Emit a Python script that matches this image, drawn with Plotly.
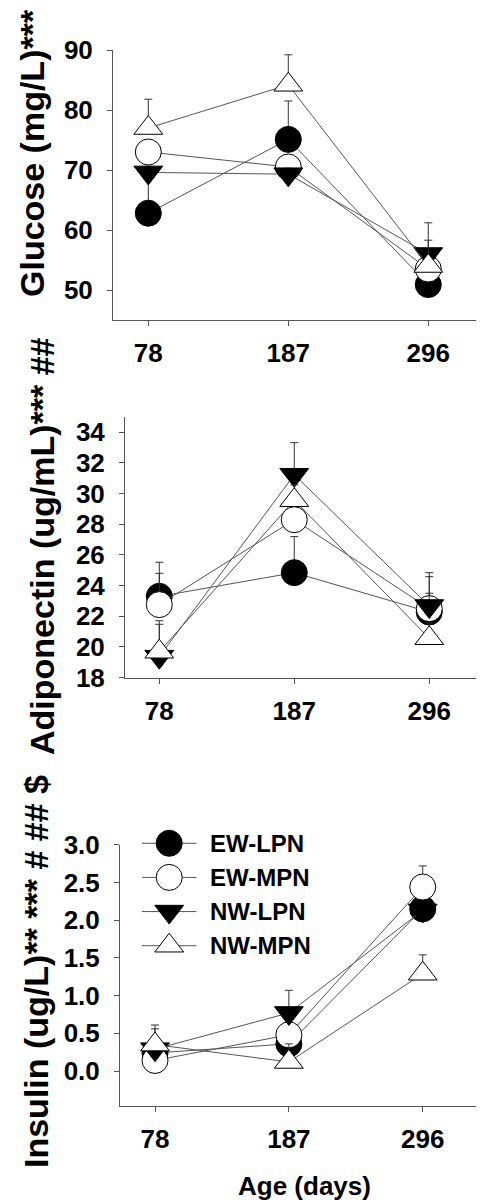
import plotly.graph_objects as go

# ---------------- data ----------------
days = [78, 187, 296]
day_labels = ["78", "187", "296"]
series = ["EW-LPN", "EW-MPN", "NW-LPN", "NW-MPN"]

# Glucose (mg/L): means and upper SE
glucose_ew_lpn = [62.8, 75.1, 50.9]
glucose_ew_mpn = [73.0, 70.5, 53.5]
glucose_nw_lpn = [69.6, 69.3, 56.0]
glucose_nw_mpn = [77.0, 84.2, 54.0]
glucose_ew_lpn_se = [11.8, 6.4, 1.0]
glucose_ew_mpn_se = [1.5, 1.0, 1.0]
glucose_nw_lpn_se = [1.0, 1.0, 2.3]
glucose_nw_mpn_se = [4.8, 5.0, 7.2]

# Adiponectin (ug/mL)
adipo_ew_lpn = [23.3, 24.84, 22.28]
adipo_ew_mpn = [22.76, 28.29, 22.5]
adipo_nw_lpn = [19.37, 31.22, 22.67]
adipo_nw_mpn = [19.69, 29.56, 20.57]
adipo_ew_lpn_se = [2.22, 2.35, 2.3]
adipo_ew_mpn_se = [2.04, 1.0, 1.0]
adipo_nw_lpn_se = [2.34, 2.09, 2.17]
adipo_nw_mpn_se = [1.79, 1.0, 1.0]

# Insulin (ug/L)
insulin_ew_lpn = [0.24, 0.36, 2.15]
insulin_ew_mpn = [0.14, 0.48, 2.44]
insulin_nw_lpn = [0.29, 0.77, 2.13]
insulin_nw_mpn = [0.35, 0.12, 1.29]
insulin_ew_lpn_se = [0.32, 0.05, 0.275]
insulin_ew_mpn_se = [0.05, 0.05, 0.28]
insulin_nw_lpn_se = [0.05, 0.30, 0.05]
insulin_nw_mpn_se = [0.26, 0.24, 0.25]

glucose_ticks = [50, 60, 70, 80, 90]
adipo_ticks = [18, 20, 22, 24, 26, 28, 30, 32, 34]
insulin_ticks = [0.0, 0.5, 1.0, 1.5, 2.0, 2.5, 3.0]

# ---------------- styles ----------------
PAGE_W, PAGE_H = 484, 1202
OFF = 8                       # default body margin of the html page
W, H = PAGE_W - OFF, PAGE_H - OFF
FONT = "Liberation Sans, Arial, sans-serif"
LINE_COLOR = "#555555"
AXIS_COLOR = "#555555"
styles = {
    "EW-LPN": dict(symbol="circle", fill="black", size=26),
    "EW-MPN": dict(symbol="circle", fill="white", size=26),
    "NW-LPN": dict(symbol="triangle-down", fill="black", size=25),
    "NW-MPN": dict(symbol="triangle-up", fill="white", size=25),
}


def fx(p):
    return (p - OFF) / W


def fy(p):
    return 1 - (p - OFF) / H


panels = [
    dict(means=[glucose_ew_lpn, glucose_ew_mpn, glucose_nw_lpn, glucose_nw_mpn],
         errs=[glucose_ew_lpn_se, glucose_ew_mpn_se, glucose_nw_lpn_se, glucose_nw_mpn_se],
         xdom=(113, 484), ydom=(320, 50), xr=[50.5, 339.4], yr=[45, 90],
         ticks=glucose_ticks, fmt="d"),
    dict(means=[adipo_ew_lpn, adipo_ew_mpn, adipo_nw_lpn, adipo_nw_mpn],
         errs=[adipo_ew_lpn_se, adipo_ew_mpn_se, adipo_nw_lpn_se, adipo_nw_mpn_se],
         xdom=(125, 484), ydom=(677.7, 417.3), xr=[50.3, 340.2], yr=[18, 34.96],
         ticks=adipo_ticks, fmt="d"),
    dict(means=[insulin_ew_lpn, insulin_ew_mpn, insulin_nw_lpn, insulin_nw_mpn],
         errs=[insulin_ew_lpn_se, insulin_ew_mpn_se, insulin_nw_lpn_se, insulin_nw_mpn_se],
         xdom=(120, 484), ydom=(1105.7, 844.8), xr=[49.5, 345.9], yr=[-0.46, 3.0],
         ticks=insulin_ticks, fmt=".1f"),
]

fig = go.Figure()
layout = dict(
    template="none",
    width=W, height=H, margin=dict(l=0, r=0, t=0, b=0, autoexpand=False),
    paper_bgcolor="white", plot_bgcolor="white", showlegend=False,
    font=dict(family=FONT, color="black"),
)

for k, p in enumerate(panels):
    idx = "" if k == 0 else str(k + 1)
    xa, ya = "x" + idx, "y" + idx
    for name, m, e in zip(series, p["means"], p["errs"]):
        st = styles[name]
        fig.add_trace(go.Scatter(
            x=days, y=m, xaxis=xa, yaxis=ya, mode="lines+markers", name=name,
            line=dict(color=LINE_COLOR, width=1),
            marker=dict(symbol=st["symbol"], size=st["size"], color=st["fill"],
                        line=dict(color="black", width=1)),
            error_y=dict(type="data", symmetric=False, array=e, arrayminus=[0] * len(e),
                         color="#333333", thickness=1, width=4),
            cliponaxis=False, showlegend=False,
        ))
    tickfont = dict(family=FONT, size=26, color="black", weight="bold")
    layout["xaxis" + idx] = dict(
        domain=[fx(p["xdom"][0]), min(1.0, fx(p["xdom"][1]))], range=p["xr"], anchor=ya,
        tickmode="array", tickvals=days, ticktext=day_labels, automargin=False,
        showline=True, linecolor=AXIS_COLOR, linewidth=1, ticks="outside",
        ticklen=5, tickcolor=AXIS_COLOR, showgrid=False, zeroline=False,
        tickfont=tickfont, ticklabelstandoff=5,
    )
    layout["yaxis" + idx] = dict(
        domain=[fy(p["ydom"][0]), fy(p["ydom"][1])], range=p["yr"], anchor=xa,
        tickmode="array", tickvals=p["ticks"], tickformat=p["fmt"], automargin=False,
        showline=True, linecolor=AXIS_COLOR, linewidth=1, ticks="outside",
        ticklen=5, tickcolor=AXIS_COLOR, showgrid=False, zeroline=False,
        tickfont=tickfont, ticklabelstandoff=9,
    )

# ---------------- custom legend (large symbols) ----------------
layout["xaxis4"] = dict(domain=[fx(141.7), fx(196.7)], range=[0, 1], visible=False,
                        anchor="y4", fixedrange=True, automargin=False)
layout["yaxis4"] = dict(domain=[fy(962.8), fy(826.2)], range=[3.5, -0.5], visible=False,
                        anchor="x4", fixedrange=True, automargin=False)
annotations = []
for i, name in enumerate(series):
    st = styles[name]
    fig.add_trace(go.Scatter(
        x=[0, 1], y=[i, i], xaxis="x4", yaxis="y4", mode="lines",
        line=dict(color=LINE_COLOR, width=1), showlegend=False, hoverinfo="skip",
    ))
    fig.add_trace(go.Scatter(
        x=[0.5], y=[i], xaxis="x4", yaxis="y4", mode="markers",
        marker=dict(symbol=st["symbol"], size=st["size"], color=st["fill"],
                    line=dict(color="black", width=1)),
        showlegend=False, hoverinfo="skip", cliponaxis=False,
    ))
    annotations.append(dict(
        x=1, y=i, xref="x4", yref="y4", text=name, showarrow=False,
        xanchor="left", yanchor="middle", xshift=11,
        font=dict(family=FONT, size=24, color="black", weight="bold"),
    ))

# ---------------- axis titles ----------------
title_font = dict(family=FONT, size=34, color="black", weight="bold")
ytitles = [
    ("Glucose (mg/L)***", 32, 153),
    ("Adiponectin (ug/mL)*** ##", 42, 546),
    ("Insulin (ug/L)** *** # ## $", 36, 972),
]
for text, cx, cy in ytitles:
    annotations.append(dict(
        x=fx(cx), y=fy(cy), xref="paper", yref="paper", text=text, textangle=-90,
        showarrow=False, xanchor="center", yanchor="middle", font=title_font,
    ))
annotations.append(dict(
    x=fx(304), y=fy(1186), xref="paper", yref="paper", text="Age (days)",
    showarrow=False, xanchor="center", yanchor="middle",
    font=dict(family=FONT, size=26, color="black", weight="bold"),
))
layout["annotations"] = annotations

fig.update_layout(**layout)
fig.write_html("out.html")
